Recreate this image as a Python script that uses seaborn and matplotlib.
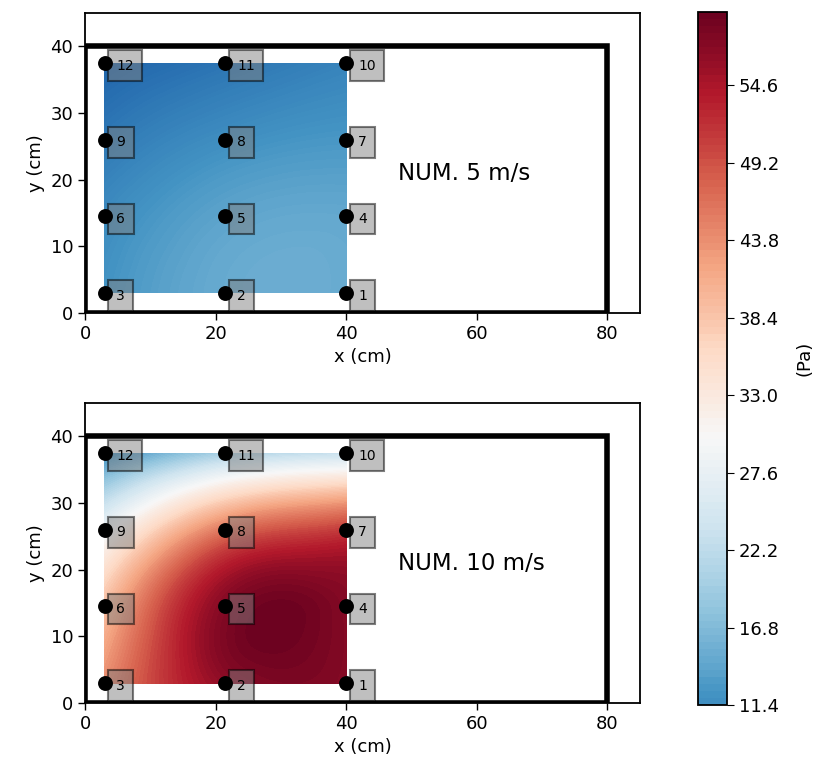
import numpy as np
import pandas as pd
import matplotlib
matplotlib.use("Agg")
import matplotlib.pyplot as plt
import matplotlib.tri as mtri
from matplotlib.colors import Normalize
from matplotlib.patches import Rectangle
import seaborn as sns

# ---- data ----
sensor_id = [1, 2, 3, 4, 5, 6, 7, 8, 9, 10, 11, 12]
sensor_x = [40, 21.5, 3, 40, 21.5, 3, 40, 21.5, 3, 40, 21.5, 3]
sensor_y = [3, 3, 3, 14.5, 14.5, 14.5, 26, 26, 26, 37.5, 37.5, 37.5]
p_5ms = [14.8, 14.8, 12.0, 14.5, 14.0, 11.0, 12.5, 11.4, 8.5, 10.0, 8.0, 6.0]
p_10ms = [57.5, 56.5, 44.0, 57.5, 57.5, 39.0, 51.0, 46.0, 28.5, 23.0, 20.0, 11.4]
panel_titles = ["NUM. 5 m/s", "NUM. 10 m/s"]
cbar_ticks = [11.4, 16.8, 22.2, 27.6, 33.0, 38.4, 43.8, 49.2, 54.6]
x_ticks = [0, 20, 40, 60, 80]
y_ticks = [0, 10, 20, 30, 40]
box_w, box_h = 80, 40

sns.set_style("ticks")
plt.rcParams['font.family'] = ['DejaVu Sans']
for k in ['text.color', 'axes.labelcolor', 'xtick.color', 'ytick.color', 'axes.edgecolor']:
    plt.rcParams[k] = 'black'

fig = plt.figure(figsize=(8.19, 7.69), dpi=100)
ax_top = fig.add_axes([0.1038, 0.593, 0.6777, 0.390])
ax_bot = fig.add_axes([0.1038, 0.0858, 0.6777, 0.390])
cax = fig.add_axes([0.8523, 0.0832, 0.0354, 0.901])

norm = Normalize(vmin=0, vmax=60)
cmap = plt.get_cmap("RdBu_r")

sx = np.array(sensor_x, dtype=float)
sy = np.array(sensor_y, dtype=float)
tri = mtri.Triangulation(sx, sy)
gx = np.linspace(3.0, 40.0, 300)
gy = np.linspace(3.0, 37.5, 300)
GX, GY = np.meshgrid(gx, gy)

mappable = None
for ax, vals, title in zip([ax_top, ax_bot], [p_5ms, p_10ms], panel_titles):
    interp = mtri.CubicTriInterpolator(tri, np.array(vals, dtype=float), kind='min_E')
    Z = interp(GX, GY)
    Z = np.ma.filled(Z, np.nan)
    levels = np.linspace(np.nanmin(Z), np.nanmax(Z), 100)
    cs = ax.contourf(GX, GY, Z, levels=levels, cmap=cmap, norm=norm, zorder=1)
    mappable = cs

    ax.add_patch(Rectangle((0, 0), box_w, box_h, fill=False, edgecolor='black',
                           lw=4, zorder=3))
    df = pd.DataFrame({"x": sensor_x, "y": sensor_y, "id": sensor_id})
    for _, r in df.iterrows():
        ax.text(r["x"] + 1.8, r["y"] - 0.4, str(int(r["id"])), fontsize=10,
                ha='left', va='center', zorder=4,
                bbox=dict(boxstyle='square,pad=0.6', facecolor='grey',
                          edgecolor='black', alpha=0.5, lw=1.5))
    sns.scatterplot(data=df, x="x", y="y", color='black', s=115, edgecolor='black',
                    linewidth=0, ax=ax, zorder=5, legend=False)
    ax.text(48, 21, title, fontsize=16.5, ha='left', va='center', zorder=6)

    ax.set_xlim(0, 85)
    ax.set_ylim(0, 45)
    ax.set_xticks(x_ticks)
    ax.set_yticks(y_ticks)
    ax.tick_params(labelsize=13, length=5, width=1)
    ax.set_xlabel("x (cm)", fontsize=13)
    ax.set_ylabel("y (cm)", fontsize=13)
    for s in ax.spines.values():
        s.set_visible(True)
        s.set_linewidth(1.3)

cb = fig.colorbar(mappable, cax=cax, ticks=cbar_ticks)
cb.ax.set_yticklabels([f"{t:.1f}" for t in cbar_ticks])
cb.ax.tick_params(labelsize=13, length=5)
cb.set_label("(Pa)", fontsize=13, labelpad=12)
cb.outline.set_linewidth(1.3)

fig.savefig("out.png", dpi=100)
